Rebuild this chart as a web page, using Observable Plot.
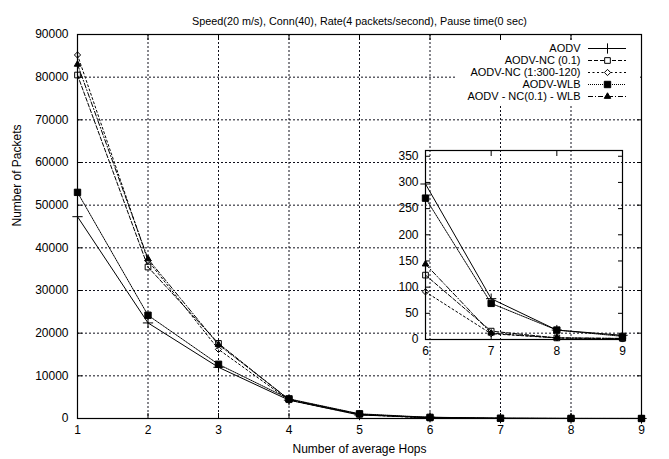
<!DOCTYPE html>
<html><head><meta charset="utf-8">
<script src="https://cdn.jsdelivr.net/npm/d3@7"></script>
<script src="https://cdn.jsdelivr.net/npm/@observablehq/plot@0.6"></script>
<style>
html,body{margin:0;padding:0;background:#fff;}
#wrap{position:relative;width:669px;height:459px;overflow:hidden;}
#wrap > div{position:absolute;}
</style></head><body>
<div id="wrap"><div id="main" style="left:0;top:0"></div><div id="inset" style="left:385px;top:140px"></div><div id="legend" style="left:455px;top:39.6px"></div></div>
<script>
// ---- data ----
const hops = [1, 2, 3, 4, 5, 6, 7, 8, 9];
const seriesNames = ["AODV", "AODV-NC (0.1)", "AODV-NC (1:300-120)", "AODV-WLB", "AODV - NC(0.1) - WLB"];
const aodv   = [47300, 22400, 12000, 4300, 800, 297, 78, 18, 8];
const nc01   = [80500, 35500, 17600, 4400, 1000, 123, 16, 3, 2];
const nc300  = [85200, 37000, 16200, 4300, 900, 91, 11, 3, 1];
const wlb    = [53000, 24200, 12700, 4600, 1100, 270, 69, 18, 6];
const ncwlb  = [83000, 37400, 17300, 4500, 1000, 144, 12, 3, 2];
const yTicks = [0, 10000, 20000, 30000, 40000, 50000, 60000, 70000, 80000, 90000];
const insetHops = [6, 7, 8, 9];
const insetTicks = [0, 50, 100, 150, 200, 250, 300, 350];
const title = "Speed(20 m/s), Conn(40), Rate(4 packets/second), Pause time(0 sec)";
const xLabel = "Number of average Hops";
const yLabel = "Number of Packets";

// ---- styles ----
const FONT = "'Liberation Sans', Arial, Helvetica, sans-serif";
const styles = [
  {dash: null,      symbol: "plus",     fill: "none",  r: 3.4},
  {dash: "4,2",     symbol: "square",   fill: "none",  r: 3.2},
  {dash: "2,2.5",   symbol: "diamond2", fill: "none",  r: 2.8},
  {dash: "1,1",     symbol: "square",   fill: "black", r: 3.6},
  {dash: "5,2,1,2", symbol: "triangle", fill: "black", r: 2.4}
];
const allValues = [aodv, nc01, nc300, wlb, ncwlb];
const series = seriesNames.map((name, i) => hops.map((h, j) => ({name, hop: h, value: allValues[i][j]})));

function seriesMarks(filterFn) {
  const marks = [];
  series.forEach((rows, i) => {
    const s = styles[i];
    const d = rows.filter(filterFn);
    marks.push(Plot.line(d, {x: "hop", y: "value", stroke: "black", strokeWidth: 1, strokeDasharray: s.dash || undefined}));
    marks.push(Plot.dot(d, {x: "hop", y: "value", symbol: s.symbol, r: s.r, stroke: "black", strokeWidth: 1, fill: s.fill}));
  });
  return marks;
}

const gridStyle = {stroke: "#10101c", strokeWidth: 1, strokeDasharray: "2,2"};

const main = Plot.plot({
  width: 669, height: 459,
  marginLeft: 77, marginRight: 28, marginTop: 34, marginBottom: 41,
  style: {fontFamily: FONT, fontSize: "12px", background: "white", color: "black"},
  x: {domain: [1, 9]},
  y: {domain: [0, 90000]},
  marks: [
    Plot.ruleX(hops, gridStyle),
    Plot.ruleY(yTicks, gridStyle),
    ...seriesMarks(() => true),
    Plot.frame({stroke: "black", strokeWidth: 1.2}),
    Plot.axisX(hops, {anchor: "bottom", tickSize: -5, tickPadding: 12, label: null, fontSize: 12}),
    Plot.axisX(hops, {anchor: "top", tickSize: -5, tickFormat: () => "", label: null}),
    Plot.axisY(yTicks, {anchor: "left", tickSize: -5, tickPadding: 14, label: null, fontSize: 12, tickFormat: d => String(d)}),
    Plot.axisY(yTicks, {anchor: "right", tickSize: -5, tickFormat: () => "", label: null}),
    Plot.text([title], {frameAnchor: "top", dy: -17, fontSize: 10.8}),
    Plot.text([xLabel], {frameAnchor: "bottom", dy: 34, fontSize: 12}),
    Plot.text([yLabel], {frameAnchor: "left", dx: -60, rotate: -90, fontSize: 12})
  ]
});
document.getElementById("main").appendChild(main);

const inset = Plot.plot({
  width: 245, height: 225,
  marginLeft: 40, marginRight: 8, marginTop: 10, marginBottom: 26,
  style: {fontFamily: FONT, fontSize: "12px", background: "transparent", color: "black", overflow: "visible"},
  x: {domain: [6, 9]},
  y: {domain: [0, 361]},
  marks: [
    ...seriesMarks(d => d.hop >= 6),
    Plot.frame({stroke: "black", strokeWidth: 1.2}),
    Plot.axisX(insetHops, {anchor: "bottom", tickSize: -5, tickPadding: 12, label: null}),
    Plot.axisX(insetHops, {anchor: "top", tickSize: -5, tickFormat: () => "", label: null}),
    Plot.axisY(insetTicks, {anchor: "left", tickSize: -5, tickPadding: 12, label: null}),
    Plot.axisY(insetTicks, {anchor: "right", tickSize: -5, tickFormat: () => "", label: null})
  ]
});
document.getElementById("inset").appendChild(inset);

// legend
const legendRows = seriesNames.map((name, i) => ({name, i}));
const legendMarks = [];
legendRows.forEach(({name, i}) => {
  const s = styles[i];
  legendMarks.push(Plot.ruleY([name], {y: d => d, x1: 133, x2: 171, stroke: "black", strokeWidth: 1, strokeDasharray: s.dash || undefined}));
  legendMarks.push(Plot.dot([name], {y: d => d, x: 152, symbol: s.symbol, r: s.r, stroke: "black", strokeWidth: 1, fill: s.fill === "none" ? "white" : s.fill}));
});
const legend = Plot.plot({
  width: 185, height: 64,
  margin: 0,
  style: {fontFamily: FONT, fontSize: "11px", background: "white", color: "black"},
  x: {domain: [0, 185], range: [0, 185], axis: null},
  y: {domain: seriesNames, type: "band", padding: 0, axis: null},
  marks: [
    ...legendMarks,
    Plot.text(legendRows, {y: "name", x: 125, text: "name", textAnchor: "end", fontSize: 11})
  ]
});
document.getElementById("legend").appendChild(legend);
</script>
</body></html>
